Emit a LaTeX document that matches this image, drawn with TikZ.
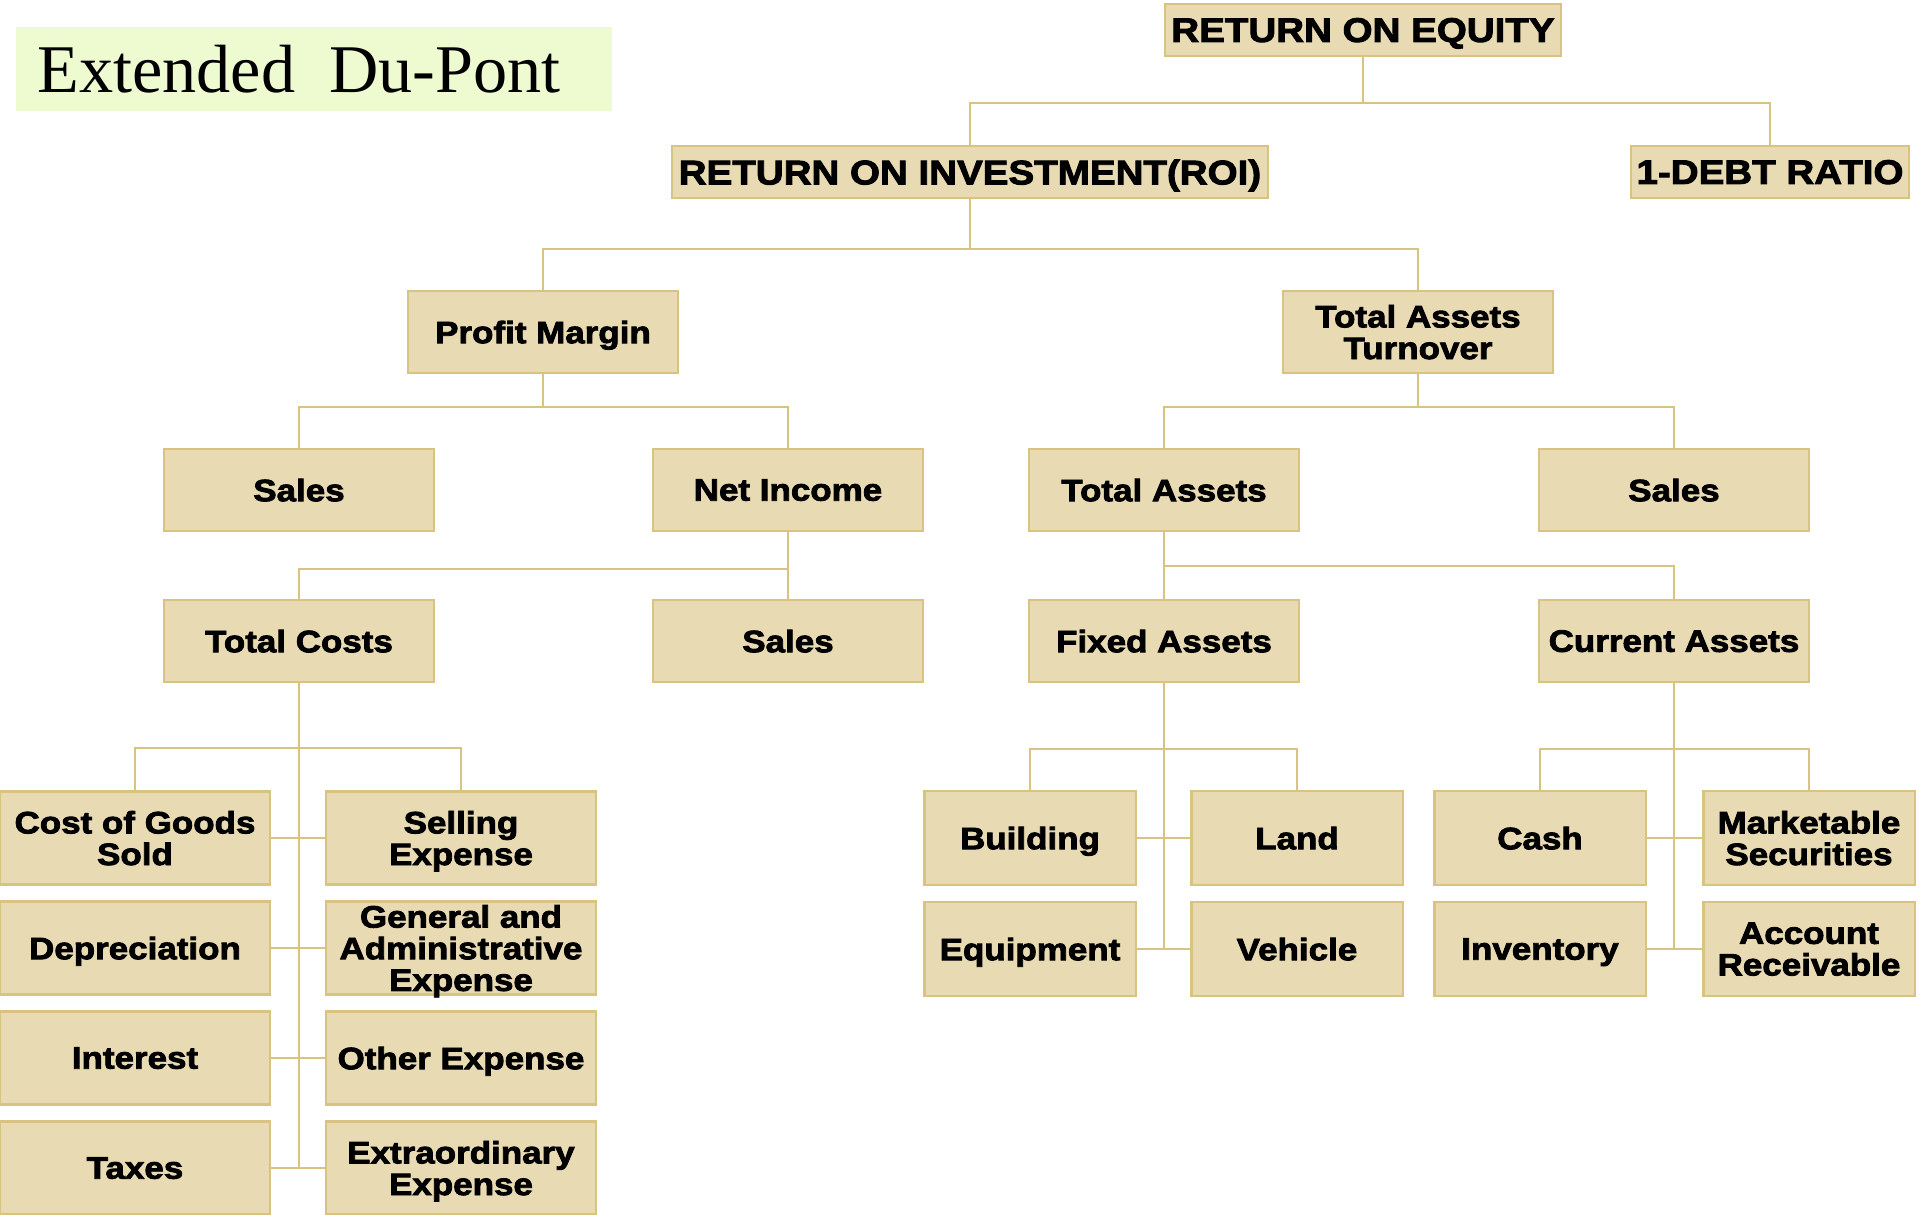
\documentclass[tikz,border=0pt]{standalone}
\usepackage{fontspec}
\setmainfont{Liberation Serif}
\newfontfamily\boxfont{Liberation Sans}[FakeStretch=1.13,BoldFeatures={FakeBold=2.6}]
\usepackage{tikz}
\usepackage{xcolor}

\definecolor{boxfill}{RGB}{232,218,178}
\definecolor{boxline}{RGB}{216,195,128}
\definecolor{titlefill}{RGB}{238,250,208}

\tikzset{
  item/.style={draw=boxline, fill=boxfill, line width=0.6pt, inner sep=0pt,
    text depth=0pt, align=center, font=\boxfont\bfseries\fontsize{8.8}{9.0}\selectfont},
  topitem/.style={item, font=\boxfont\bfseries\fontsize{9.7}{10.4}\selectfont,
    minimum height=0.52cm},
  midbox/.style={item, minimum width=2.69cm, minimum height=0.82cm},
  lowbox/.style={item, minimum width=2.69cm, minimum height=0.93cm},
  smallbox/.style={item, minimum width=2.11cm, minimum height=0.94cm},
  link/.style={draw=boxline, line width=0.6pt}
}

\begin{document}
\begin{tikzpicture}[x=0.01cm, y=-0.01cm]
\useasboundingbox (0,0) rectangle (1920,1214);

% title
\fill[titlefill] (16,27) rectangle (612,111);
\node[anchor=west, inner sep=0pt, font=\fontsize{19.4}{22}\selectfont] (title) at (37,69) {Extended\ \ Du-Pont};

% top levels
\node[topitem, minimum width=3.95cm] (roe) at (1363,30) {RETURN ON EQUITY};
\node[topitem, minimum width=5.95cm] (roi) at (970,172) {RETURN ON INVESTMENT(ROI)};
\node[topitem, minimum width=2.78cm] (debt) at (1770,172) {1-DEBT RATIO};

\node[midbox] (pm) at (543,332) {Profit Margin};
\node[midbox, minimum width=2.70cm] (tat) at (1418,332) {Total Assets\\Turnover};

\node[midbox] (salesA) at (299,490) {Sales};
\node[midbox] (ni) at (788,490) {Net Income};
\node[midbox] (ta) at (1164,490) {Total Assets};
\node[midbox, minimum width=2.70cm] (salesB) at (1674,490) {Sales};

\node[midbox] (tc) at (299,641) {Total Costs};
\node[midbox] (salesC) at (788,641) {Sales};
\node[midbox] (fa) at (1164,641) {Fixed Assets};
\node[midbox, minimum width=2.70cm] (ca) at (1674,641) {Current Assets};

% cost items
\node[lowbox] (cogs) at (135,838) {Cost of Goods\\Sold};
\node[lowbox] (sell) at (461,838) {Selling\\Expense};
\node[lowbox] (dep) at (135,948) {Depreciation};
\node[lowbox] (ga) at (461,948) {General and\\Administrative\\Expense};
\node[lowbox] (int) at (135,1058) {Interest};
\node[lowbox] (oth) at (461,1058) {Other Expense};
\node[lowbox] (tax) at (135,1168) {Taxes};
\node[lowbox] (extra) at (461,1168) {Extraordinary\\Expense};

% asset items
\node[smallbox] (bld) at (1030,838) {Building};
\node[smallbox] (land) at (1297,838) {Land};
\node[smallbox] (eqp) at (1030,949) {Equipment};
\node[smallbox] (veh) at (1297,949) {Vehicle};
\node[smallbox] (cash) at (1540,838) {Cash};
\node[smallbox] (mkt) at (1809,838) {Marketable\\Securities};
\node[smallbox] (inv) at (1540,949) {Inventory};
\node[smallbox] (acc) at (1809,949) {Account\\Receivable};

% bus points
\coordinate (busroe) at (1363,103);
\coordinate (busroi) at (970,249);
\coordinate (buspm) at (543,407);
\coordinate (bustat) at (1418,407);
\coordinate (busni) at (788,569);
\coordinate (busta) at (1164,566);
\coordinate (bustc) at (299,748);
\coordinate (endtc) at (299,1168);
\coordinate (busfa) at (1164,749);
\coordinate (endfa) at (1164,949);
\coordinate (busca) at (1674,749);
\coordinate (endca) at (1674,949);

% connectors
\draw[link] (roe) -- (busroe);
\draw[link] (roi.north) |- (busroe) -| (debt.north);
\draw[link] (roi) -- (busroi);
\draw[link] (pm.north) |- (busroi) -| (tat.north);
\draw[link] (pm) -- (buspm);
\draw[link] (salesA.north) |- (buspm) -| (ni.north);
\draw[link] (tat) -- (bustat);
\draw[link] (ta.north) |- (bustat) -| (salesB.north);
\draw[link] (ni) -- (salesC);
\draw[link] (busni) -| (tc.north);
\draw[link] (ta) -- (fa);
\draw[link] (busta) -| (ca.north);

\draw[link] (tc) -- (endtc);
\draw[link] (cogs.north) |- (bustc) -| (sell.north);
\draw[link] (cogs) -- (sell);
\draw[link] (dep) -- (ga);
\draw[link] (int) -- (oth);
\draw[link] (tax) -- (extra);

\draw[link] (fa) -- (endfa);
\draw[link] (bld.north) |- (busfa) -| (land.north);
\draw[link] (bld) -- (land);
\draw[link] (eqp) -- (veh);

\draw[link] (ca) -- (endca);
\draw[link] (cash.north) |- (busca) -| (mkt.north);
\draw[link] (cash) -- (mkt);
\draw[link] (inv) -- (acc);
\end{tikzpicture}
\end{document}
